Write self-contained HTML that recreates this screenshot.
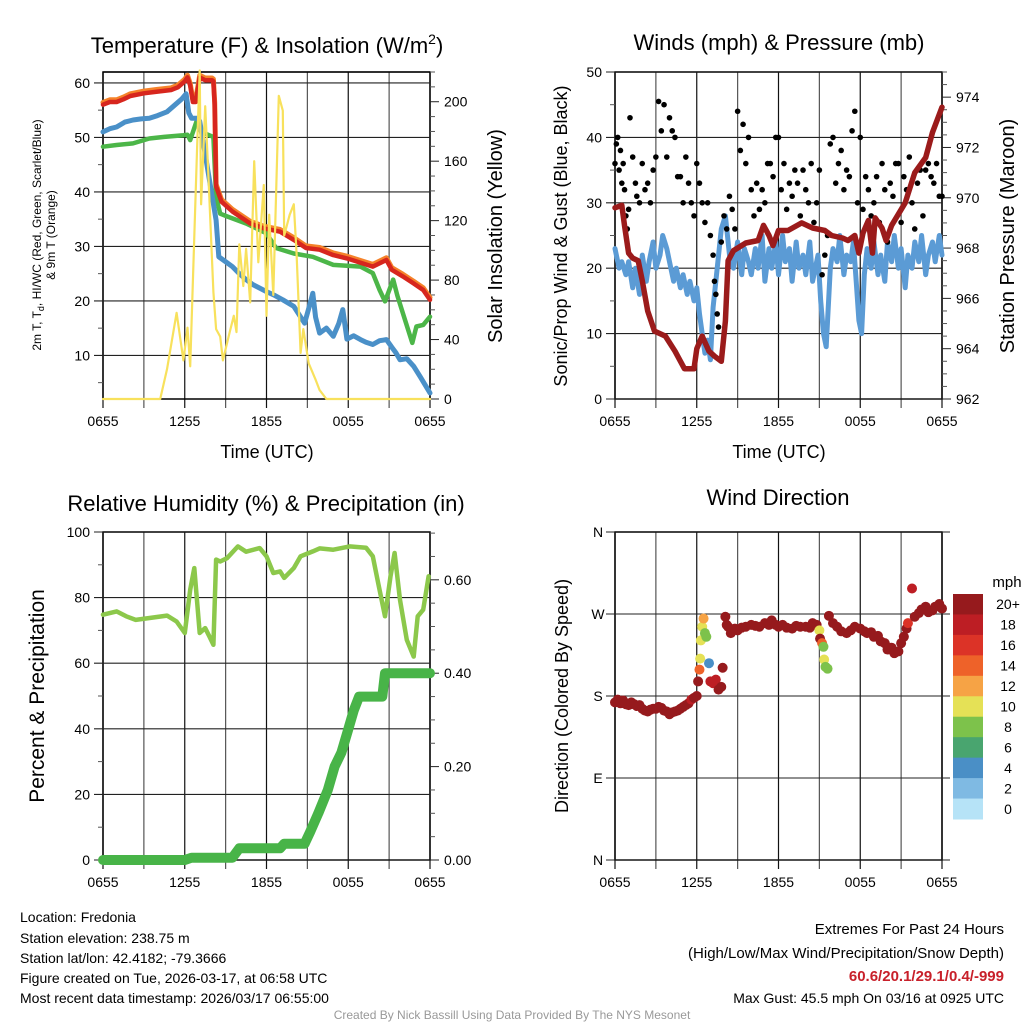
<!DOCTYPE html>
<html><head><meta charset="utf-8"><style>
html,body{margin:0;padding:0;background:#fff}
svg{display:block;font-family:"Liberation Sans",sans-serif}
</style></head><body>
<svg id="chart" width="1024" height="1024" viewBox="0 0 1024 1024">
<rect width="1024" height="1024" fill="#fff"/>
<text x="267" y="53" font-size="22" text-anchor="middle">Temperature (F) &amp; Insolation (W/m<tspan dy="-9" font-size="14">2</tspan><tspan dy="9">)</tspan></text>
<text x="779" y="50" font-size="22" text-anchor="middle">Winds (mph) &amp; Pressure (mb)</text>
<text x="266" y="511" font-size="22" text-anchor="middle">Relative Humidity (%) &amp; Precipitation (in)</text>
<text x="778" y="505" font-size="22" text-anchor="middle">Wind Direction</text>

<text transform="translate(41,235) rotate(-90)" font-size="12" text-anchor="middle">2m T, T<tspan dy="3" font-size="9">d</tspan><tspan dy="-3">, HI/WC (Red, Green, Scarlet/Blue)</tspan></text>
<text transform="translate(55,235) rotate(-90)" font-size="12" text-anchor="middle">&amp; 9m T (Orange)</text>
<text transform="translate(502,236) rotate(-90)" font-size="20" text-anchor="middle">Solar Insolation (Yellow)</text>
<text transform="translate(567,236) rotate(-90)" font-size="18" text-anchor="middle">Sonic/Prop Wind &amp; Gust (Blue, Black)</text>
<text transform="translate(1014,236) rotate(-90)" font-size="20" text-anchor="middle">Station Pressure (Maroon)</text>
<text transform="translate(44,696) rotate(-90)" font-size="21" text-anchor="middle">Percent &amp; Precipitation</text>
<text transform="translate(568,696) rotate(-90)" font-size="18" text-anchor="middle">Direction (Colored By Speed)</text>
<text x="267" y="458" font-size="18" text-anchor="middle">Time (UTC)</text>
<text x="779" y="458" font-size="18" text-anchor="middle">Time (UTC)</text>

<g font-size="14">
<text x="20" y="922">Location: Fredonia</text>
<text x="20" y="943">Station elevation: 238.75 m</text>
<text x="20" y="963">Station lat/lon: 42.4182; -79.3666</text>
<text x="20" y="983">Figure created on Tue, 2026-03-17, at 06:58 UTC</text>
<text x="20" y="1003">Most recent data timestamp: 2026/03/17 06:55:00</text>
</g>
<g font-size="15" text-anchor="end">
<text x="1004" y="934">Extremes For Past 24 Hours</text>
<text x="1004" y="958">(High/Low/Max Wind/Precipitation/Snow Depth)</text>
<text x="1004" y="981" fill="#c8202a" font-weight="bold">60.6/20.1/29.1/0.4/-999</text>
<text x="1004" y="1003" font-size="14">Max Gust: 45.5 mph On 03/16 at 0925 UTC</text>
</g>
<text x="512" y="1019" font-size="12" fill="#999" text-anchor="middle">Created By Nick Bassill Using Data Provided By The NYS Mesonet</text>
</svg>
<script>
// ---- Data ----
const timeLabels = ["0655","1255","1855","0055","0655"];
const redH = [0,0.5,1,1.5,2,3,4,5,5.5,6,6.2,6.4,6.6,6.8,7,7.1,7.5,8,8.1,8.2,8.3,8.7,9.5,10.8,11.8,13,14,14.9,15.9,16.9,17.9,19.8,20.8,21.2,22,22.8,23.5,24];
const redV = [56,56.5,56.5,57,57.6,58.1,58.4,58.7,59.2,60.3,61,59.5,56.5,56.5,59.5,61,60.5,60.5,60.3,56,41,38.2,36.4,34.2,33.3,32.7,31.2,29.7,29.4,28.4,27.8,26.3,27.5,25.7,24.5,23.2,22,20.2];
const blueH = [0,0.5,1,1.6,2.2,2.8,3.4,4,4.7,5.3,5.8,6.1,6.3,6.5,6.9,7.1,8.3,8.5,9,9.5,10,10.5,11,12,12.6,13.2,14,14.8,15.2,15.4,15.6,15.9,16.4,16.9,17.3,17.6,17.9,18.4,18.9,19.3,19.8,20.3,20.8,21.2,21.5,21.8,22.3,22.8,23.3,24];
const blueV = [51,51.6,51.9,52.8,53.2,53.4,53.5,54,54.7,56,57.1,58,54.5,53.5,53.5,53,34.8,28.1,27.2,26.3,25,23.9,23,21.7,21,20.2,19,15.9,19.5,21.4,17,14.1,15,13.5,15.8,18.4,13,13.6,12.9,12.4,12,12.7,12.9,11.5,10.5,9.2,9.4,8,6,3.1];
const greenH = [0,1,2.2,3.4,4.5,5.9,6.2,6.4,6.9,7.2,8.1,8.3,8.6,9.1,10.5,12,12.7,14,15.4,16.9,18.9,19.8,20.3,20.7,21.3,21.6,22,22.7,23,23.5,24];
const greenV = [48.3,48.6,48.9,49.8,50.1,50.4,50.5,49.5,53.2,51,50.1,39.1,36,35.5,34.2,32.4,29.7,28.7,28.1,26.6,26.3,25.1,22,19.9,23.9,21,17.8,12.3,15.3,15.6,17.1];
const solH = [0,4.2,4.7,5.4,5.9,6.2,6.4,6.9,7.1,7.2,7.5,7.7,8.1,8.3,8.6,8.8,9.3,9.6,9.8,10,10.3,10.5,10.8,11.1,11.4,11.8,12,12.2,12.5,12.9,13.2,13.3,13.7,14,14.2,14.5,14.7,15.1,15.6,15.9,16.4,24];
const solV = [0,0,20,58,26,48,22,167,221,131,197,158,72,47,42,26,45,56,45,104,76,101,65,160,92,144,56,124,70,204,194,110,124,131,99,31,47,24,13,6,0,0];
const windH = [0,0.3,0.5,0.8,1,1.3,1.5,1.8,2,2.3,2.5,2.8,3,3.3,3.5,3.8,4,4.3,4.5,4.8,5,5.3,5.5,5.8,6,6.2,6.4,6.6,6.8,7,7.2,7.5,7.8,8.1,8.4,8.7,9,9.3,9.5,9.8,10,10.3,10.5,10.8,11,11.3,11.5,11.8,12,12.3,12.5,12.8,13,13.3,13.5,13.8,14,14.3,14.5,14.7,14.9,15.1,15.3,15.5,15.8,16,16.3,16.5,16.8,17,17.3,17.5,17.7,17.9,18.1,18.3,18.5,18.8,19,19.3,19.5,19.8,20,20.3,20.5,20.8,21,21.3,21.5,21.8,22,22.3,22.5,22.8,23,23.3,23.5,23.8,24];
const windV = [23,20,21,19,21,17,20,16,22,18,21,24,20,22,25,23,21,18,20,17,19,16,18,15,17,13,10,7,9,6,14,20,26,28,22,20,24,19,23,21,19,23,20,25,18,23,20,24,19,25,21,23,18,24,20,22,19,24,18,20,22,15,10,8,20,23,21,25,19,22,21,24,18,12,10,19,23,20,24,19,22,18,24,21,25,20,23,17,22,20,24,21,25,19,22,24,21,25,22,23];
const gustH = [0,0.1,0.2,0.3,0.4,0.5,0.6,0.7,0.8,0.9,1,1.1,1.3,1.5,1.6,1.8,2,2.2,2.4,2.6,2.8,3,3.2,3.4,3.6,3.8,4,4.2,4.4,4.6,4.8,5,5.2,5.4,5.6,5.8,6,6.2,6.4,6.6,6.8,7,7.2,7.3,7.4,7.5,7.6,7.8,8,8.2,8.4,8.6,8.8,9,9.2,9.4,9.6,9.8,10,10.2,10.4,10.6,10.8,11,11.2,11.4,11.6,11.8,12,12.2,12.4,12.6,12.8,13,13.2,13.4,13.6,13.8,14,14.2,14.4,14.6,14.8,15,15.2,15.4,15.6,15.8,16,16.2,16.4,16.6,16.8,17,17.2,17.4,17.6,17.8,18,18.2,18.4,18.6,18.8,19,19.2,19.4,19.6,19.8,20,20.2,20.4,20.6,20.8,21,21.2,21.4,21.6,21.8,22,22.2,22.4,22.6,22.8,23,23.2,23.4,23.6,23.8,24];
const gustV = [36,39,40,35,38,33,36,32,28,26,29,43,37,33,31,30,36,32,33,30,35,37,45.5,41,45,37,43,41,40,34,34,30,37,33,30,28,36,33,30,27,30,25,22,18,16,13,11,24,28,26,31,29,26,44,38,42,36,40,32,28,33,29,32,30,36,36,34,40,40,32,36,29,33,31,35,33,28,35,32,30,36,27,30,35,19,22,25,39,40,33,36,38,32,35,34,41,44,30,40,29,34,32,28,30,34,27,36,32,24,33,31,36,36,27,34,32,37,30,26,33,35,28,35,36,34,33,36,31,31];
const presH = [0,0.5,0.7,1,1.3,1.7,2,2.4,2.9,3.7,4.4,5.1,5.8,6,6.4,6.9,7.3,7.8,8.1,8.3,8.7,9.6,10.5,10.9,11.3,11.6,12,12.7,13.7,14.5,15.4,15.9,16.7,17.1,17.6,17.9,18.2,18.6,18.9,19.1,19.6,19.9,20.3,21.3,22,22.8,23.3,24];
const presV = [969.6,969.7,968.9,967.8,967.6,967.5,966.7,965.5,964.7,964.5,963.9,963.2,963.2,964,964.5,963.9,963.7,963.5,965.1,967.5,967.9,968.2,968.3,968.9,968.5,968.1,968.7,968.7,969,968.8,968.7,968.5,968.4,968.3,968.5,967.8,968.6,969.1,967.8,969.2,968.8,968.3,968.9,969.8,971,971.6,972.6,973.6];
const rhH = [0,1,1.7,2.4,4.7,5.4,6,6.4,6.7,7.1,7.5,7.8,8.1,8.3,8.6,9.1,9.9,10.5,11.5,12,12.5,13,13.3,14,14.5,15.4,15.9,16.9,18.1,19.3,19.8,20.2,20.7,21.1,21.4,21.8,22.3,22.8,23.1,23.5,23.9];
const rhV = [74.8,75.8,74.3,73.2,74.5,72.7,69.2,82.4,89,69.2,70.7,68.2,65.6,91.6,91,92,95.6,94,95.1,92.6,87.5,88,86,89,92.6,94.1,95,94.6,95.6,95.2,92.6,84.4,74.3,86.5,93.6,79.3,67.1,62,74.3,76.3,86.5];
const prH = [0,6,6.5,9.5,10,13,13.3,14.8,15.2,15.8,16.5,17,17.5,18,18.4,18.8,20.5,20.7,24];
const prV = [0,0,0.005,0.005,0.025,0.025,0.035,0.035,0.06,0.1,0.15,0.2,0.23,0.28,0.32,0.35,0.35,0.4,0.4];
const dirH = [0,0.2,0.4,0.6,0.8,1,1.2,1.4,1.6,1.8,2,2.2,2.4,2.6,2.8,3,3.2,3.4,3.6,3.8,4,4.2,4.4,4.6,4.8,5,5.2,5.4,5.6,5.8,6,6.1,6.2,6.25,6.3,6.4,6.5,6.6,6.7,6.9,7,7.2,7.4,7.6,7.8,7.9,8.1,8.2,8.3,8.5,8.8,9,9.3,9.6,10,10.3,10.6,11,11.3,11.5,11.8,12,12.3,12.6,13,13.3,13.6,14,14.3,14.5,14.8,15,15.05,15.2,15.3,15.35,15.45,15.6,15.7,16,16.3,16.6,17,17.3,17.6,18,18.3,18.5,18.8,19,19.3,19.5,19.8,20,20.3,20.5,20.8,21,21.2,21.4,21.5,21.8,22,22.3,22.5,22.8,23,23.3,23.5,23.8,24];
const dirV = [173,176,172,175,171,170,173,171,169,170,166,164,163,165,166,166,168,167,164,163,160,162,163,164,166,168,170,172,176,178,180,196,209,221,241,256,265,249,245,216,196,194,198,187,190,211,267,258,256,249,254,252,255,256,258,257,256,260,258,263,258,256,258,255,254,257,256,256,255,260,258,252,243,238,234,220,212,210,268,260,256,251,249,252,256,254,251,249,250,245,246,240,238,231,233,227,229,238,245,254,260,298,267,271,275,278,272,274,278,281,276,276];
const dirS = [22,22,22,22,22,22,22,22,22,22,22,22,22,22,22,22,22,22,22,22,22,22,22,22,22,22,22,22,19,22,22,22,14,10,10,10,12,8,8,4,19,19,19,22,22,22,22,22,22,22,22,22,22,22,22,22,22,22,22,22,22,22,22,22,22,22,22,22,22,22,22,10,22,14,8,10,8,8,22,22,22,22,22,22,22,22,22,22,22,22,22,22,22,22,22,22,22,22,22,22,16,18,22,22,22,22,22,22,22,22,22,22];
const barLabels = ["20+","18","16","14","12","10","8","6","4","2","0"];
const barColors = ["#961a1d","#bd1e24","#dc3327","#ee6229","#f6a345","#e5e156","#7dc24b","#49a56f","#4a8fc6","#7fbae3","#b6e3f7"];

// ---- Helpers ----
const NS = "http://www.w3.org/2000/svg";
const svg = document.getElementById("chart");
function mk(tag, attrs, parent){const e=document.createElementNS(NS,tag);for(const k in attrs)e.setAttribute(k,attrs[k]);(parent||svg).appendChild(e);return e;}
function sx(p,h){return p.L+h/24*(p.R-p.L);}
function sy(p,v,lo,hi){return p.B-(v-lo)/(hi-lo)*(p.B-p.T);}
const P1={L:103,R:430,T:72,B:399}, P2={L:615,R:942,T:72,B:399}, P3={L:103,R:430,T:532,B:860}, P4={L:615,R:942,T:532,B:860};

function frame(p,name){
  const g=mk("g",{});
  
  
  for(let h=0;h<=24;h+=3){
    const l=mk("line",{x1:sx(p,h),x2:sx(p,h),y1:p.T,y2:p.B+9,stroke:h%6==0?"#111":"#555","stroke-width":1.2},g);
    
    
  }
  for(let i=0;i<5;i++){
    const t=mk("text",{x:sx(p,i*6),y:p.B+27,"font-size":14,"text-anchor":"middle"},g);
    t.textContent=timeLabels[i];
    
    
  }
  const top=mk("line",{x1:p.L,x2:p.R,y1:p.T,y2:p.T,stroke:"#111","stroke-width":1.2},g);
  
  
  const bx=mk("rect",{x:p.L,y:p.T,width:p.R-p.L,height:p.B-p.T,fill:"none",stroke:"#000","stroke-width":1.5},g);
  
  
  return g;
}
function leftAxis(p,name,lo,hi,step,minor,labels,grid,fmt){
  const g=mk("g",{});
  
  
  for(let v=Math.ceil(lo/minor)*minor; v<=hi+1e-9; v+=minor){
    const y=sy(p,v,lo,hi);
    const major=Math.abs(v/step-Math.round(v/step))<1e-6;
    if(major){
      const l=mk("line",{x1:p.L-9,x2:grid?p.R:p.L,y1:y,y2:y,stroke:"#222","stroke-width":1.1},g);
      
      
      const t=mk("text",{x:p.L-13,y:y+5,"font-size":14,"text-anchor":"end"},g);
      t.textContent=fmt?fmt(v):v;
      
      
    } else {
      const l=mk("line",{x1:p.L-5,x2:p.L,y1:y,y2:y,stroke:"#555"},g);
      
      
    }
  }
}
function rightAxis(p,name,lo,hi,step,minor,fmt){
  const g=mk("g",{});
  
  
  const n=Math.round((hi-lo)/minor);
  for(let i=0;i<=n;i++){
    const v=Math.ceil(lo/minor-1e-9)*minor+i*minor; if(v>hi+1e-9)break;
    const y=sy(p,v,lo,hi);
    const major=Math.abs(v/step-Math.round(v/step))<1e-6;
    const l=mk("line",{x1:p.R,x2:p.R+(major?9:5),y1:y,y2:y,stroke:major?"#222":"#555"},g);
    
    
    if(major){
      const t=mk("text",{x:p.R+14,y:y+5,"font-size":14},g);
      t.textContent=fmt(v);
      
      
    }
  }
}
function line(p,H,V,lo,hi,color,w,name){
  const pts=H.map((h,i)=>sx(p,h).toFixed(1)+","+sy(p,V[i],lo,hi).toFixed(1)).join(" ");
  const e=mk("polyline",{points:pts,fill:"none",stroke:color,"stroke-width":w,"stroke-linejoin":"round","stroke-linecap":"round"});
  
  
  return e;
}

// Panel 1
frame(P1,"temperature");
leftAxis(P1,"temperature",2,62,10,5,null,true);
rightAxis(P1,"insolation",0,220,40,10,v=>String(v));
line(P1,redH,redV.map(v=>v+0.4),2,62,"#f5822a",5,"orange-9m-temp-line");
line(P1,greenH,greenV,2,62,"#4cb648",4.5,"green-dewpoint-line");
line(P1,blueH,blueV,2,62,"#4a90c8",5,"blue-windchill-line");
line(P1,redH,redV,2,62,"#d7261e",4.5,"red-temperature-line");
line(P1,solH,solV,0,220,"#f8e15c",2.2,"yellow-insolation-line");

// Panel 2
frame(P2,"winds");
leftAxis(P2,"winds",0,50,10,5,null,true);
rightAxis(P2,"pressure",962,975,2,0.5,v=>String(Math.round(v)));
line(P2,windH,windV,0,50,"#5b9bd5",5,"blue-wind-line");
gustH.forEach((h,i)=>{
  const c=mk("circle",{cx:sx(P2,h),cy:sy(P2,gustV[i],0,50),r:2.8,fill:"#000"});
  
  
});
line(P2,presH,presV,962,975,"#9b1b1b",5.5,"maroon-pressure-line");

// Panel 3
frame(P3,"humidity");
leftAxis(P3,"humidity",0,100,20,10,null,true);
rightAxis(P3,"precip",0,0.7024,0.2,0.05,v=>v.toFixed(2));
line(P3,rhH,rhV,0,100,"#8cc84b",4.5,"rh-line");
line(P3,prH,prV,0,0.7024,"#48b448",10,"precip-line");

// Panel 4
frame(P4,"direction");
const dirLabels=["N","E","S","W","N"];
for(let i=0;i<5;i++){
  const y=sy(P4,i*90,0,360);
  const l=mk("line",{x1:P4.L-9,x2:P4.R+8,y1:y,y2:y,stroke:"#222","stroke-width":1.1});
  
  
  const t=mk("text",{x:P4.L-17,y:y+5,"font-size":14,"text-anchor":"middle"});
  t.textContent=dirLabels[i];
  
  
}
dirH.forEach((h,i)=>{
  const bin=Math.min(10,Math.floor(dirS[i]/2));
  const c=mk("circle",{cx:sx(P4,h),cy:sy(P4,dirV[i],0,360),r:5,fill:barColors[10-bin]});
  
  
});
// colorbar
const mph=mk("text",{x:1007,y:587,"font-size":15,"text-anchor":"middle"});
mph.textContent="mph";


const bh=(819-594)/11;
barColors.forEach((c,i)=>{
  const r=mk("rect",{x:953,y:594+i*bh,width:30,height:bh+0.5,fill:c});
  
  
  const t=mk("text",{x:1008,y:594+i*bh+bh/2+5,"font-size":14,"text-anchor":"middle"});
  t.textContent=barLabels[i];
  
  
});
</script>
</body></html>
